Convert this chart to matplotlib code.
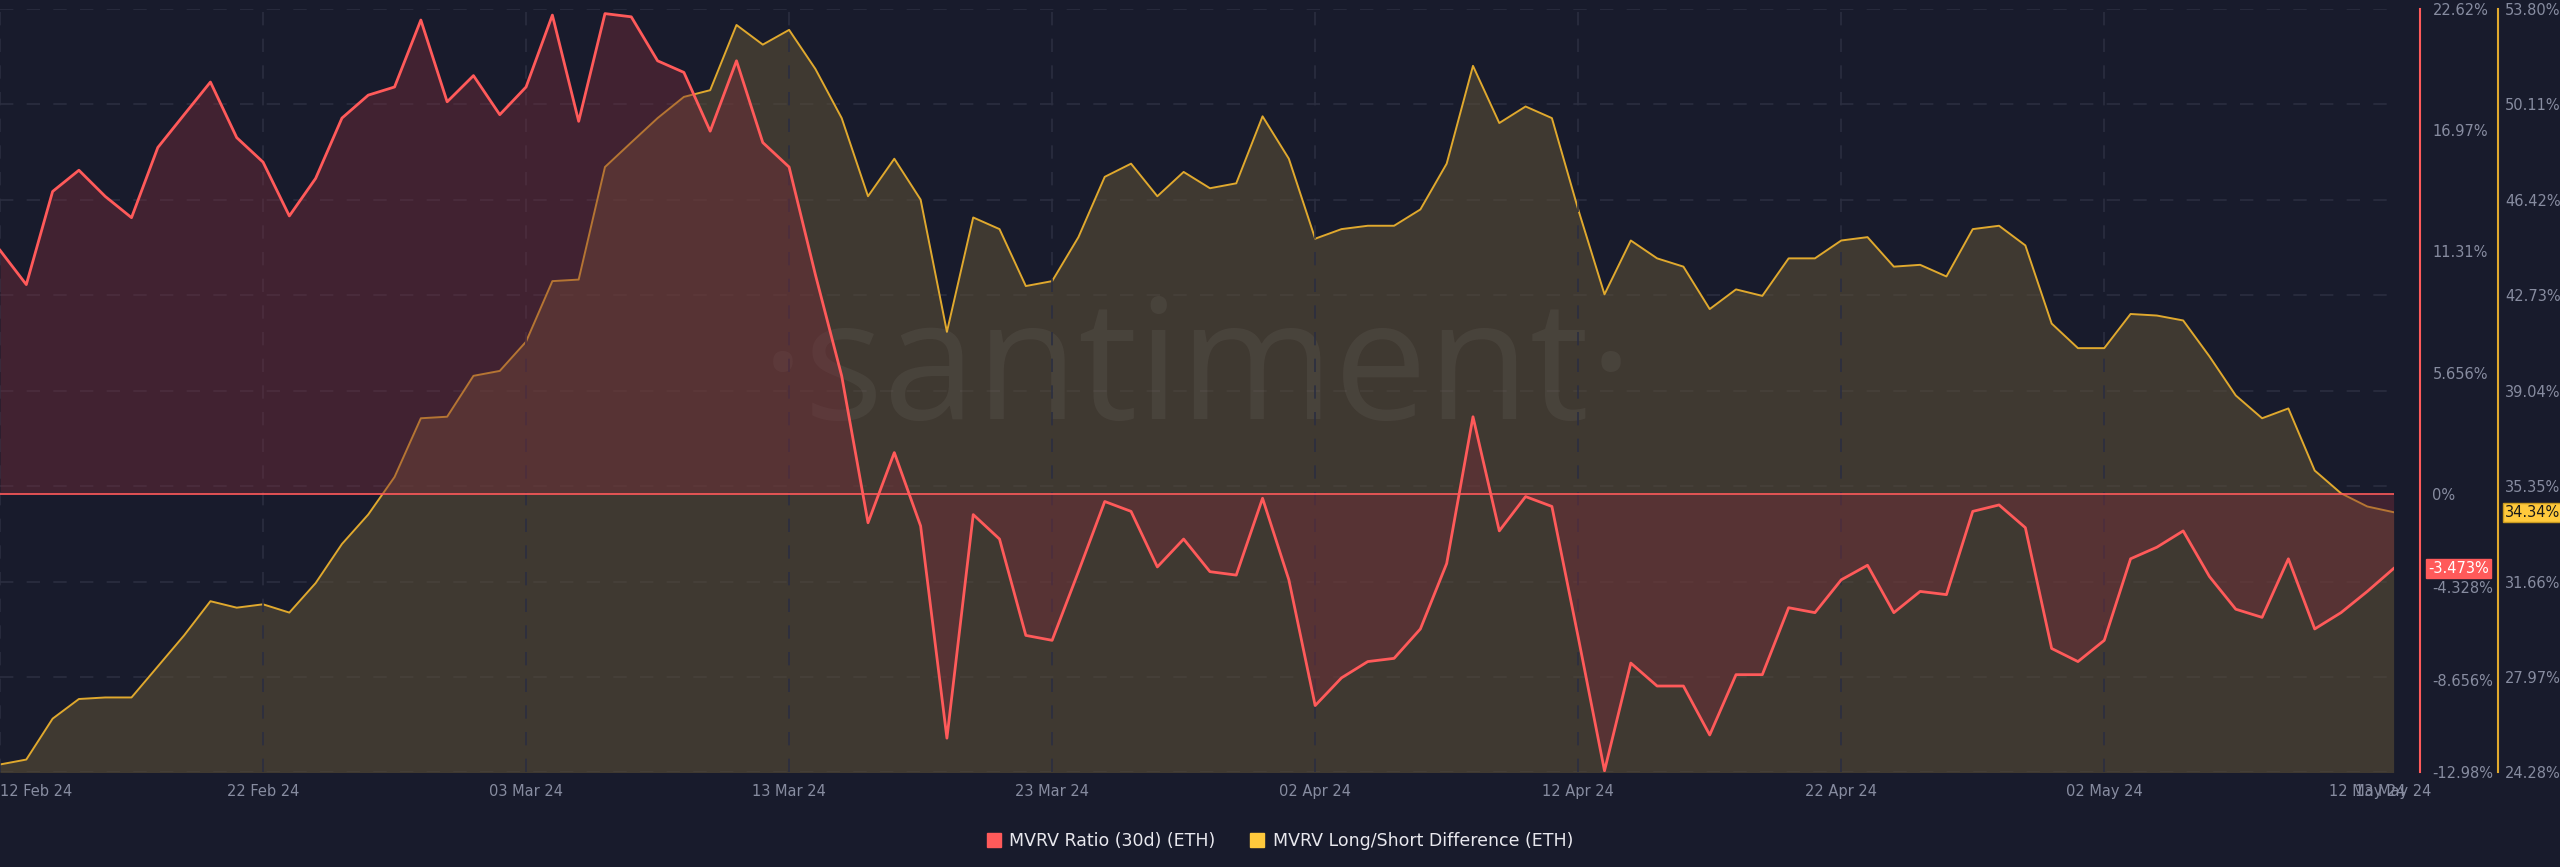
import numpy as np
import pandas as pd
import matplotlib
matplotlib.use("Agg")
import matplotlib.pyplot as plt
import matplotlib.dates as mdates
from matplotlib.patches import Patch

# daily values, 12 Feb 2024 .. 13 May 2024
dates = pd.date_range("2024-02-12", "2024-05-13", freq="D")

mvrv_30d = [
    11.36, 9.76, 14.10, 15.09, 13.87, 12.88, 16.15, 17.68, 19.20, 16.61,
    15.47, 12.96, 14.71, 17.52, 18.59, 18.97, 22.09, 18.28, 19.50, 17.68,
    18.97, 22.32, 17.37, 22.39, 22.24, 20.19, 19.65, 16.91, 20.19, 16.38,
    15.24, 10.22, 5.50, -1.34, 1.93, -1.49, -11.38, -0.96, -2.10, -6.59,
    -6.82, -3.62, -0.35, -0.81, -3.40, -2.10, -3.62, -3.78, -0.20, -4.00,
    -9.86, -8.57, -7.81, -7.66, -6.29, -3.24, 3.60, -1.72, -0.12, -0.58,
    -6.67, -12.90, -7.88, -8.95, -8.95, -11.23, -8.42, -8.42, -5.30, -5.53,
    -4.00, -3.32, -5.53, -4.54, -4.69, -0.81, -0.51, -1.57, -7.20, -7.81,
    -6.82, -3.02, -2.48, -1.72, -3.85, -5.37, -5.75, -3.02, -6.29, -5.53,
    -4.54, -3.473,
]

mvrv_ls = [
    24.59, 24.78, 26.36, 27.12, 27.18, 27.18, 28.38, 29.58, 30.90, 30.65,
    30.78, 30.46, 31.60, 33.11, 34.25, 35.70, 37.97, 38.03, 39.61, 39.80,
    40.93, 43.27, 43.33, 47.68, 48.63, 49.57, 50.39, 50.65, 53.17, 52.41,
    52.98, 51.47, 49.57, 46.55, 48.00, 46.42, 41.31, 45.73, 45.28, 43.08,
    43.27, 44.97, 47.30, 47.81, 46.55, 47.49, 46.86, 47.05, 49.64, 48.00,
    44.91, 45.28, 45.41, 45.41, 46.04, 47.81, 51.59, 49.38, 50.02, 49.57,
    46.04, 42.76, 44.84, 44.15, 43.83, 42.19, 42.95, 42.70, 44.15, 44.15,
    44.84, 44.97, 43.83, 43.90, 43.45, 45.28, 45.41, 44.65, 41.63, 40.68,
    40.68, 42.00, 41.94, 41.75, 40.36, 38.85, 37.97, 38.35, 35.95, 35.07,
    34.56, 34.34,
]

red_ticks = [22.62, 16.97, 11.31, 5.656, 0, -4.328, -8.656, -12.98]
red_labels = ["22.62%", "16.97%", "11.31%", "5.656%", "0%", "-4.328%", "-8.656%", "-12.98%"]
yel_ticks = [53.80, 50.11, 46.42, 42.73, 39.04, 35.35, 31.66, 27.97, 24.28]
tick_dates = pd.to_datetime(["2024-02-12", "2024-02-22", "2024-03-03", "2024-03-13",
                             "2024-03-23", "2024-04-02", "2024-04-12", "2024-04-22",
                             "2024-05-02", "2024-05-12", "2024-05-13"])

BG = "#181b2c"
RED = "#ff5a5a"
YEL = "#e0a92e"
GREY = "#878ca0"
GRID = "#2b2e40"
RED_POS = 1.011
YEL_POS = 1.0437

fig = plt.figure(figsize=(25.6, 8.67), dpi=100, facecolor=BG)
ax = fig.add_axes([0.0, 0.109, 0.935, 0.881])
ax.set_facecolor(BG)
ax2 = ax.twinx()

# yellow series (own scale)
ax2.fill_between(dates, mvrv_ls, 24.28, color="#5a4e36", alpha=0.6, lw=0, zorder=1)
ax2.plot(dates, mvrv_ls, color=YEL, lw=1.4, zorder=3)
ax2.set_ylim(24.28, 53.80)

# red series
ax.fill_between(dates, mvrv_30d, 0, color="#7a2d3a", alpha=0.42, lw=0, zorder=1)
ax.axhline(0, color=RED, lw=1.2, zorder=2)
ax.set_ylim(-12.98, 22.62)
ax.set_xlim(dates[0], dates[-1])
ax.set_zorder(ax2.get_zorder() + 1)
ax.patch.set_visible(False)
ax.plot(dates, mvrv_30d, color=RED, lw=2.0, zorder=4)

# watermark
ax.text(0.5, 0.52, "·santiment·", transform=ax.transAxes, ha="center", va="center",
        fontsize=120, color="#ffffff", alpha=0.05, family="Open Sans", zorder=0)

# grid
for t in yel_ticks:
    ax2.axhline(t, color=GRID, lw=1.2, ls=(0, (8, 8)), zorder=0)
for d in tick_dates[:-2]:
    ax.axvline(d, color=GRID, lw=1.2, ls=(0, (8, 8)), zorder=0)

# spines / ticks
for a in (ax, ax2):
    for s in a.spines.values():
        s.set_visible(False)
ax.yaxis.tick_right()
ax.spines["right"].set_visible(True)
ax.spines["right"].set_position(("axes", RED_POS))
ax.spines["right"].set_color(RED)
ax.spines["right"].set_linewidth(1.5)
ax.set_yticks(red_ticks)
ax.set_yticklabels(red_labels)
ax.tick_params(axis="y", length=0, colors=GREY, labelsize=10.5, pad=9)

ax2.spines["right"].set_visible(True)
ax2.spines["right"].set_position(("axes", YEL_POS))
ax2.spines["right"].set_color(YEL)
ax2.spines["right"].set_linewidth(1.5)
ax2.set_yticks(yel_ticks)
ax2.set_yticklabels([f"{t:.2f}%" for t in yel_ticks])
ax2.tick_params(axis="y", length=0, colors=GREY, labelsize=10.5, pad=5)

ax.set_xticks(tick_dates)
ax.xaxis.set_major_formatter(mdates.DateFormatter("%d %b %y"))
ax.tick_params(axis="x", length=0, colors=GREY, labelsize=10.5, pad=8)
labels = ax.get_xticklabels()
labels[0].set_ha("left")

# last-value badges
ax.annotate(f"{mvrv_30d[-1]:.3f}%", xy=(RED_POS, mvrv_30d[-1]), xycoords=("axes fraction", "data"),
            xytext=(6, 0), textcoords="offset points", ha="left", va="center",
            fontsize=10.5, color="white",
            bbox=dict(boxstyle="square,pad=0.15", fc=RED, ec=RED))
ax2.annotate(f"{mvrv_ls[-1]:.2f}%", xy=(YEL_POS, mvrv_ls[-1]), xycoords=("axes fraction", "data"),
             xytext=(5, 0), textcoords="offset points", ha="left", va="center",
             fontsize=10.5, color="#1a1a1a",
             bbox=dict(boxstyle="square,pad=0.15", fc="#ffc93c", ec="#c89a20"))

handles = [Patch(color=RED, label="MVRV Ratio (30d) (ETH)"),
           Patch(color="#ffc93c", label="MVRV Long/Short Difference (ETH)")]
leg = fig.legend(handles=handles, loc="center", bbox_to_anchor=(0.5, 0.03), ncol=2,
                 frameon=False, fontsize=12.5, handlelength=0.8, handleheight=0.8,
                 columnspacing=2.0, handletextpad=0.5)
for t in leg.get_texts():
    t.set_color("#e8e8ee")

fig.savefig("out.png", facecolor=BG)
